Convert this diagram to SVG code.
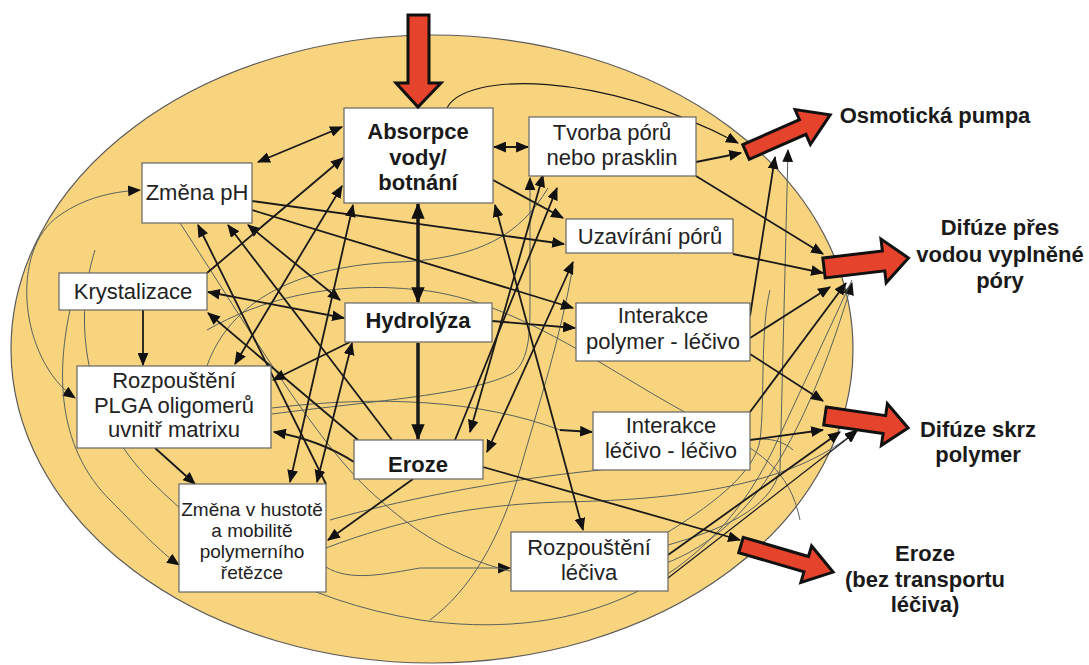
<svg xmlns="http://www.w3.org/2000/svg" width="1089" height="665" viewBox="0 0 1089 665">
<defs>
<marker id="a" viewBox="0 0 12 10" refX="11" refY="5" markerWidth="13" markerHeight="11" markerUnits="userSpaceOnUse" orient="auto-start-reverse"><path d="M0,0 L12,5 L0,10 Z" fill="#111"/></marker>
<marker id="aw" viewBox="0 0 12 10" refX="11" refY="5" markerWidth="16" markerHeight="14" markerUnits="userSpaceOnUse" orient="auto-start-reverse"><path d="M0,0 L12,5 L0,10 Z" fill="#111"/></marker>
<style>
.box{fill:#fff;stroke:#666;stroke-width:1.2}
.t{font-family:"Liberation Sans",Arial,sans-serif;font-size:22px;fill:#222;text-anchor:middle}
.tb{font-family:"Liberation Sans",Arial,sans-serif;font-size:22px;font-weight:bold;fill:#1a1a1a;text-anchor:middle}
.ts{font-family:"Liberation Sans",Arial,sans-serif;font-size:19px;fill:#222;text-anchor:middle}
.lab{font-family:"Liberation Sans",Arial,sans-serif;font-size:22px;font-weight:bold;fill:#1a1a1a;text-anchor:middle}
.c{fill:none;stroke:#1a1a1a;stroke-width:1.8}
.ck{fill:none;stroke:#1a1a1a;stroke-width:3.5}
.cn{fill:none;stroke:#1a1a1a;stroke-width:1.2}
.th{fill:none;stroke:#56625e;stroke-width:1}
.red{fill:#E5432B;stroke:#111;stroke-width:3;stroke-linejoin:miter}
</style>
</defs>
<ellipse cx="432" cy="349" rx="421" ry="314" fill="#F8D47E" stroke="#5a5a5a" stroke-width="1.2"/>

<g id="connectors">
<path class="th" d="M75,398 C20,360 8,250 60,215 C85,198 110,192 140,190" marker-start="url(#a)" marker-end="url(#a)"/>
<path class="th" d="M70,310 C55,380 60,450 110,500 C140,530 160,552 179,565" marker-end="url(#a)"/>
<path class="th" d="M326,567 C350,582 385,574 420,568 L510,568" marker-end="url(#a)"/>
<path class="th" d="M326,548 C400,520 470,505 560,502 C700,500 800,480 857,430" marker-end="url(#a)"/>
<path class="th" d="M180,223 C250,330 320,450 380,500 C440,555 520,590 620,575 C720,560 790,490 852,283" marker-end="url(#a)"/>
<path class="th" d="M207,366 C230,300 300,265 400,262 C480,258 520,235 548,188"/>
<path class="th" d="M272,414 C380,400 470,395 513,373 C530,360 530,330 530,300 L530,178" marker-end="url(#a)"/>
<path class="th" d="M272,408 C380,395 480,400 560,430"/>
<path class="c" d="M560,430 L592,432" marker-end="url(#a)"/>
<path class="th" d="M668,545 C720,530 770,510 780,470 L788,150" marker-end="url(#a)"/>
<path class="th" d="M573,266 C560,340 540,400 520,470 C500,540 470,590 430,620"/>
<path class="th" d="M207,330 C260,300 330,280 420,290 C520,300 620,380 700,420 C760,450 790,470 800,520"/>
<path class="th" d="M668,532 C720,500 755,470 760,440 C765,400 760,330 770,290"/>
<path class="th" d="M95,250 C70,330 90,420 150,480 C220,550 300,600 420,620 C560,640 700,600 773,450 L852,280"/>
<path class="th" d="M330,520 C400,500 500,480 600,470 C700,460 760,420 793,450"/>
<path class="cn" d="M447,108 C465,72 600,70 738,143" marker-end="url(#a)"/>

<line class="c" x1="258" y1="162" x2="342" y2="127" marker-start="url(#a)" marker-end="url(#a)"/>
<line class="c" x1="494" y1="147" x2="528" y2="147" marker-start="url(#a)" marker-end="url(#a)"/>
<line class="ck" x1="418" y1="204" x2="418" y2="302" marker-start="url(#aw)" marker-end="url(#aw)"/>
<line class="ck" x1="418" y1="343" x2="418" y2="439" marker-end="url(#aw)"/>
<line class="c" x1="143" y1="310" x2="143" y2="365" marker-end="url(#a)"/>
<line class="c" x1="208" y1="292" x2="344" y2="318" marker-start="url(#a)" marker-end="url(#a)"/>
<line class="c" x1="358" y1="440" x2="208" y2="313" marker-end="url(#a)"/>
<line class="c" x1="392" y1="440" x2="228" y2="225" marker-end="url(#a)"/>
<line class="c" x1="326" y1="484" x2="198" y2="225" marker-end="url(#a)"/>
<line class="c" x1="248" y1="225" x2="340" y2="300" marker-start="url(#a)" marker-end="url(#a)"/>
<line class="c" x1="252" y1="201" x2="564" y2="244" marker-end="url(#a)"/>
<line class="c" x1="252" y1="210" x2="573" y2="308" marker-end="url(#a)"/>
<line class="c" x1="207" y1="273" x2="343" y2="158" marker-end="url(#a)"/>
<line class="c" x1="235" y1="364" x2="342" y2="186" marker-start="url(#a)" marker-end="url(#a)"/>
<line class="c" x1="290" y1="482" x2="353" y2="205" marker-start="url(#a)" marker-end="url(#a)"/>
<line class="c" x1="317" y1="482" x2="352" y2="343" marker-start="url(#a)" marker-end="url(#a)"/>
<line class="c" x1="350" y1="342" x2="273" y2="380" marker-end="url(#a)"/>
<path class="c" d="M354,462 Q320,440 274,432" marker-end="url(#a)"/>
<line class="c" x1="155" y1="448" x2="195" y2="484" marker-end="url(#a)"/>
<line class="c" x1="413" y1="479" x2="328" y2="540" marker-end="url(#a)"/>
<line class="c" x1="483" y1="467" x2="740" y2="540" marker-end="url(#a)"/>
<line class="c" x1="495" y1="205" x2="583" y2="530" marker-start="url(#a)" marker-end="url(#a)"/>
<line class="c" x1="470" y1="432" x2="543" y2="175" marker-start="url(#a)" marker-end="url(#a)"/>
<line class="c" x1="487" y1="452" x2="573" y2="262" marker-start="url(#a)" marker-end="url(#a)"/>
<line class="c" x1="455" y1="440" x2="557" y2="188" marker-end="url(#a)"/>
<line class="c" x1="493" y1="180" x2="563" y2="218" marker-end="url(#a)"/>
<line class="c" x1="492" y1="321" x2="575" y2="328" marker-end="url(#a)"/>
<line class="c" x1="696" y1="162" x2="741" y2="153" marker-end="url(#a)"/>
<line class="c" x1="696" y1="176" x2="823" y2="254" marker-end="url(#a)"/>
<line class="c" x1="733" y1="254" x2="823" y2="273" marker-end="url(#a)"/>
<line class="c" x1="750" y1="338" x2="830" y2="287" marker-end="url(#a)"/>
<line class="c" x1="750" y1="354" x2="823" y2="401" marker-end="url(#a)"/>
<line class="c" x1="750" y1="316" x2="775" y2="157" marker-end="url(#a)"/>
<line class="c" x1="750" y1="412" x2="846" y2="283" marker-end="url(#a)"/>
<line class="c" x1="750" y1="440" x2="823" y2="430" marker-end="url(#a)"/>
<line class="c" x1="668" y1="555" x2="840" y2="432" marker-end="url(#a)"/>
<line class="cn" x1="668" y1="578" x2="857" y2="431" marker-end="url(#a)"/>
</g>

<g id="absorpce"><rect class="box" x="344" y="108" width="149" height="95"/>
<text class="tb" x="418" y="139">Absorpce</text><text class="tb" x="418" y="165">vody/</text><text class="tb" x="418" y="190">botnání</text></g>
<g id="tvorba"><rect class="box" x="529" y="117" width="167" height="59"/>
<text class="t" x="612" y="140">Tvorba pórů</text><text class="t" x="612" y="165">nebo prasklin</text></g>
<g id="uzavirani"><rect class="box" x="566" y="219" width="167" height="34"/>
<text class="t" x="650" y="244">Uzavírání pórů</text></g>
<g id="zmena-ph"><rect class="box" x="142" y="163" width="110" height="60"/>
<text class="t" x="197" y="200">Změna pH</text></g>
<g id="krystalizace"><rect class="box" x="59" y="273" width="148" height="37"/>
<text class="t" x="133" y="299">Krystalizace</text></g>
<g id="rozpousteni-plga"><rect class="box" x="77" y="366" width="194" height="82"/>
<text class="t" x="174" y="388">Rozpouštění</text><text class="t" x="174" y="413">PLGA oligomerů</text><text class="t" x="174" y="437">uvnitř matrixu</text></g>
<g id="hydrolyza"><rect class="box" x="345" y="303" width="147" height="39"/>
<text class="tb" x="418" y="328">Hydrolýza</text></g>
<g id="interakce-pl"><rect class="box" x="576" y="303" width="174" height="58"/>
<text class="t" x="663" y="323">Interakce</text><text class="t" x="663" y="349">polymer - léčivo</text></g>
<g id="interakce-ll"><rect class="box" x="593" y="412" width="157" height="58"/>
<text class="t" x="671" y="433">Interakce</text><text class="t" x="671" y="458">léčivo - léčivo</text></g>
<g id="eroze"><rect class="box" x="354" y="440" width="129" height="39"/>
<text class="tb" x="418" y="472">Eroze</text></g>
<g id="zmena-hustota"><rect class="box" x="179" y="484" width="147" height="108"/>
<text class="ts" x="252" y="516">Změna v hustotě</text><text class="ts" x="252" y="537">a mobilitě</text><text class="ts" x="252" y="558">polymerního</text><text class="ts" x="252" y="579">řetězce</text></g>
<g id="rozpousteni-leciva"><rect class="box" x="511" y="532" width="157" height="59"/>
<text class="t" x="589" y="555">Rozpouštění</text><text class="t" x="589" y="580">léčiva</text></g>

<g id="red-arrows">
<polygon class="red" points="408,15 429,15 429,83 441,83 418,107 396,83 408,83"/>
<polygon class="red" transform="translate(746,152) rotate(-23.8)" points="0,-8 62,-8 62,-19 92,0 62,19 62,8 0,8"/>
<polygon class="red" transform="translate(824,268) rotate(-6.8)" points="0,-10 60,-10 60,-22 85,0 60,22 60,10 0,10"/>
<polygon class="red" transform="translate(825,416) rotate(8.2)" points="0,-9 60,-9 60,-21 84,0 60,21 60,9 0,9"/>
<polygon class="red" transform="translate(741,545) rotate(16.4)" points="0,-8 68,-8 68,-19 96,0 68,19 68,8 0,8"/>
</g>

<g id="outputs">
<text class="lab" x="935" y="123">Osmotická pumpa</text>
<text class="lab" x="1000" y="235">Difúze přes</text><text class="lab" x="1000" y="262">vodou vyplněné</text><text class="lab" x="1000" y="288">póry</text>
<text class="lab" x="978" y="437">Difúze skrz</text><text class="lab" x="978" y="462">polymer</text>
<text class="lab" x="925" y="561">Eroze</text><text class="lab" x="925" y="587">(bez transportu</text><text class="lab" x="925" y="612">léčiva)</text>
</g>
</svg>
